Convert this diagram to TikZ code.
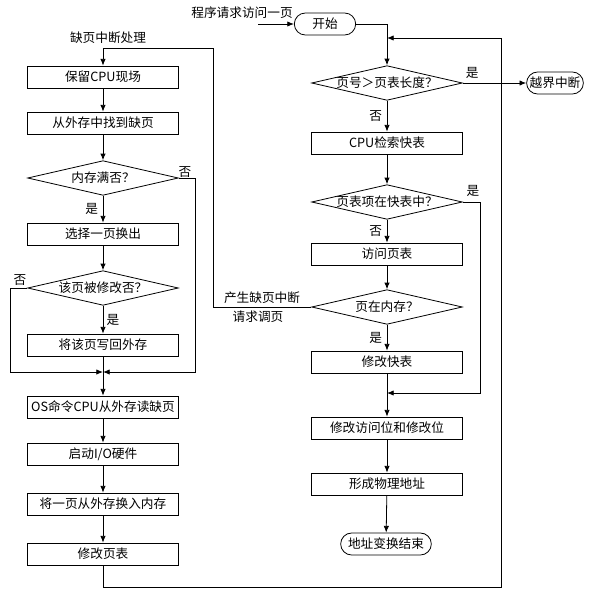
\documentclass[tikz,border=0pt]{standalone}
\usepackage{fontspec}
\setmainfont{Noto Sans CJK SC}
\usetikzlibrary{shapes.geometric,shapes.misc,arrows.meta}

\tikzset{
  every node/.style={font=\fontsize{9.5pt}{11pt}\selectfont},
  box/.style={draw, rectangle, minimum width=113pt, minimum height=16.5pt, inner sep=0pt},
  dec/.style={draw, diamond, shape aspect=4.3, minimum width=113pt, minimum height=26pt, inner xsep=0pt, inner ysep=-2pt},
  term/.style={draw, rounded rectangle, minimum height=16.5pt, inner xsep=1pt, inner ysep=0pt},
  arr/.style={-{Latex[length=5pt,width=4pt]}},
}

\begin{document}
\begin{tikzpicture}[x=0.75pt,y=-0.75pt,line width=0.6pt]
    \useasboundingbox (0,0) rectangle (590,600);

    % right column: address translation
    \node[term, minimum width=48pt] (start) at (325,24) {开始};
    \node (req) at (242,13) {程序请求访问一页};
    \coordinate (reqin) at (258,24);
    \node[dec] (d1) at (387,83) {页号＞页表长度？};
    \node[term] (over) at (555,83) {越界中断};
    \node[box] (b1) at (387,143) {CPU检索快表};
    \node[dec] (d2) at (387,202) {页表项在快表中？};
    \node[box] (b2) at (387,254) {访问页表};
    \node[dec] (d3) at (387,307) {页在内存？};
    \node[box] (b3) at (387,362) {修改快表};
    \node[box] (b4) at (387,428) {修改访问位和修改位};
    \node[box] (b5) at (387,484) {形成物理地址};
    \node[term, minimum width=70pt] (stop) at (386,544) {地址变换结束};
    \coordinate (m2) at (387,393);
    \coordinate (rt) at (387,38);

    % left column: page fault handling
    \node (fault) at (108,38) {缺页中断处理};
    \coordinate (ltop) at (103,48);
    \node[box] (l1) at (103,77) {保留CPU现场};
    \node[box] (l2) at (103,123) {从外存中找到缺页};
    \node[dec] (ld1) at (103,178) {内存满否？};
    \node[box] (l3) at (103,234) {选择一页换出};
    \node[dec] (ld2) at (103,288) {该页被修改否？};
    \node[box] (l4) at (103,345) {将该页写回外存};
    \coordinate (m1) at (103,372);
    \node[box] (l5) at (103,407) {OS命令CPU从外存读缺页};
    \node[box] (l6) at (103,454) {启动I/O硬件};
    \node[box] (l7) at (103,504) {将一页从外存换入内存};
    \node[box] (l8) at (103,554) {修改页表};

    % connectors, right
    \draw[arr] (reqin) -- (start.west);
    \draw[arr] (start.east) -| (d1.north);
    \draw[arr] (d1.east) -- node[pos=0.15, above] {是} (over.west);
    \draw[arr] (d1) -- node[left, pos=0.5] {否} (b1);
    \draw[arr] (b1) -- (d2);
    \draw[arr] (d2.east) -- ++(18,0) |- (m2);
    \node (yes2) at (473,191) {是};
    \draw[arr] (d2) -- node[left] {否} (b2);
    \draw[arr] (b2) -- (d3);
    \draw[arr] (d3) -- node[left] {是} (b3);
    \draw[arr] (b3) -- (b4);
    \draw[arr] (b4) -- (b5);
    \draw[arr] (b5) -- (stop);

    % page fault branch
    \draw[arr] (d3.west) -| (213,48) -- (ltop) -- (l1);
    \node (pf1) at (262,298) {产生缺页中断};
    \node (pf2) at (258,317) {请求调页};

    % connectors, left
    \draw[arr] (l1) -- (l2);
    \draw[arr] (l2) -- (ld1);
    \draw[arr] (ld1.east) -- ++(17,0) |- (m1);
    \node (no1) at (185,172) {否};
    \draw[arr] (ld1) -- node[left] {是} (l3);
    \draw[arr] (l3) -- (ld2);
    \draw[arr] (ld2.west) -- (10,288) |- (m1);
    \node (no2) at (20,280) {否};
    \draw[arr] (ld2) -- node[right=-1pt] {是} (l4);
    \draw (l4) -- (m1);
    \draw[arr] (m1) -- (l5);
    \draw[arr] (l5) -- (l6);
    \draw[arr] (l6) -- (l7);
    \draw[arr] (l7) -- (l8);
    \draw[arr] (l8) |- (501,587) -- (501,38) -- (rt);
\end{tikzpicture}
\end{document}
